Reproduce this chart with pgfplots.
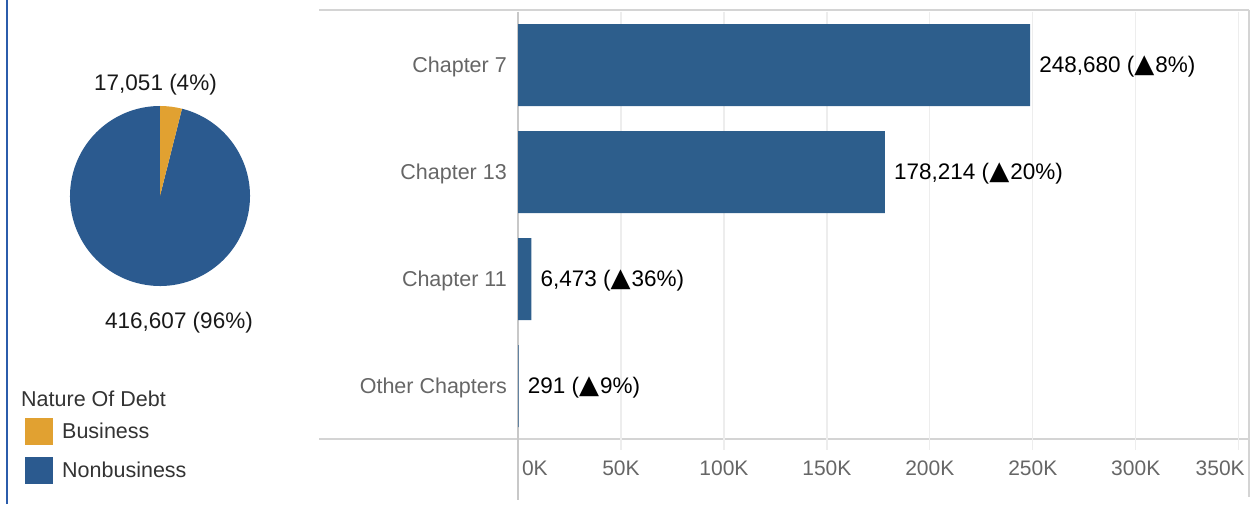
\documentclass[border=0pt]{standalone}
\usepackage{pgfplots}
\pgfplotsset{compat=1.18}
\usepackage{fontspec}
\setmainfont{Liberation Sans}
\newfontfamily\symf{DejaVu Sans}
\definecolor{barblue}{HTML}{2D5E8C}
\definecolor{pieblue}{HTML}{2B5A8F}
\definecolor{gold}{HTML}{E1A131}
\definecolor{axgray}{HTML}{D4D4D4}
\definecolor{zerogray}{HTML}{C8C8C8}
\definecolor{gridgray}{HTML}{EDEDED}
\definecolor{labgray}{HTML}{666666}
\definecolor{legtext}{HTML}{333333}
\definecolor{frameblue}{HTML}{2B5CAB}
\newcommand\fs[1]{\fontsize{#1}{#1}\selectfont}
\newcommand\tri{{\symf\fontsize{26}{26}\selectfont ▲}\hspace{1pt}}
\begin{document}
\begin{tikzpicture}[x=1pt,y=1pt]
\path[use as bounding box] (0,0) rectangle (1255,504);
% left frame line
\draw[frameblue, line width=2.2pt] (7,0) -- (7,504);
% separators of the bar panel
\draw[axgray, line width=1.8pt] (319,494) -- (1249,494);
\draw[axgray, line width=1.8pt] (319,65) -- (1249,65);
\draw[axgray, line width=1.4pt] (1249,494) -- (1249,7);

% ---------- bar chart ----------
\begin{axis}[
  at={(518pt,64.5pt)}, anchor=south west, scale only axis,
  width=731pt, height=428pt,
  xbar, bar width=82pt,
  xmin=0, xmax=355000, ymin=-0.5, ymax=3.5, y dir=reverse,
  clip=false,
  axis line style={draw=none},
  xmajorgrids, grid style={gridgray, line width=1.3pt},
  xtick={0,50000,100000,150000,200000,250000,300000,350000},
  xticklabels={\makebox[0pt][l]{\hspace{4pt}0K},50K,100K,150K,200K,250K,300K,\makebox[0pt][r]{350K\hspace{-6pt}}},
  xtick pos=left, tick align=outside, major tick length=10pt,
  xtick style={draw=gridgray, line width=1.3pt},
  xticklabel style={font=\fs{21}, text=labgray, anchor=base, inner sep=0pt, yshift=-26pt},
  ytick={0,1,2,3},
  yticklabels={Chapter 7, Chapter 13, Chapter 11, Other Chapters},
  ytick style={draw=none},
  yticklabel style={font=\fs{21.5}, text=labgray, anchor=east, inner sep=0pt, xshift=-1pt, yshift=-1.5pt},
  point meta=explicit symbolic,
  nodes near coords,
  every node near coord/.append style={font=\fs{22.5}, text=black, anchor=west, inner sep=0pt, xshift=9pt, yshift=-1.5pt},
]
\draw[zerogray, line width=1.3pt] (axis cs:0,-0.5) -- (axis cs:0,4.07);
\addplot[fill=barblue, draw=none] coordinates {
  (248680,0) [{248,680 (\tri8\%)}]
  (178214,1) [{178,214 (\tri20\%)}]
  (6473,2)   [{6,473 (\tri36\%)}]
  (291,3)    [{291 (\tri9\%)}]
};
\end{axis}

% ---------- pie chart ----------
\pgfmathsetmacro\bizend{90-360*17.051/(17.051+416.607)}
\begin{axis}[
  at={(160pt,308pt)}, anchor=center, hide axis, scale only axis,
  width=200pt, height=200pt, xmin=-100, xmax=100, ymin=-100, ymax=100,
  clip=false,
]
\fill[pieblue] (axis cs:0,0) -- ++(\bizend:90pt) arc[start angle=\bizend, end angle=-270, radius=90pt] -- cycle;
\fill[gold] (axis cs:0,0) -- ++(90:90pt) arc[start angle=90, end angle=\bizend, radius=90pt] -- cycle;
\end{axis}
\node[font=\fs{22.5}, text=black!90, inner sep=0pt] at (155.5,419) {17,051 (4\%)};
\node[font=\fs{22.5}, text=black!90, inner sep=0pt] at (179,181) {416,607 (96\%)};

% ---------- legend ----------
\node[anchor=west, inner sep=0pt, font=\fs{21.5}, text=legtext] at (21,105) {Nature Of Debt};
\fill[gold] (25,59) rectangle (53,86);
\node[anchor=west, inner sep=0pt, font=\fs{21.5}, text=legtext] at (62,73) {Business};
\fill[pieblue] (25,20) rectangle (53,47);
\node[anchor=west, inner sep=0pt, font=\fs{21.5}, text=legtext] at (62,34) {Nonbusiness};
\end{tikzpicture}
\end{document}
